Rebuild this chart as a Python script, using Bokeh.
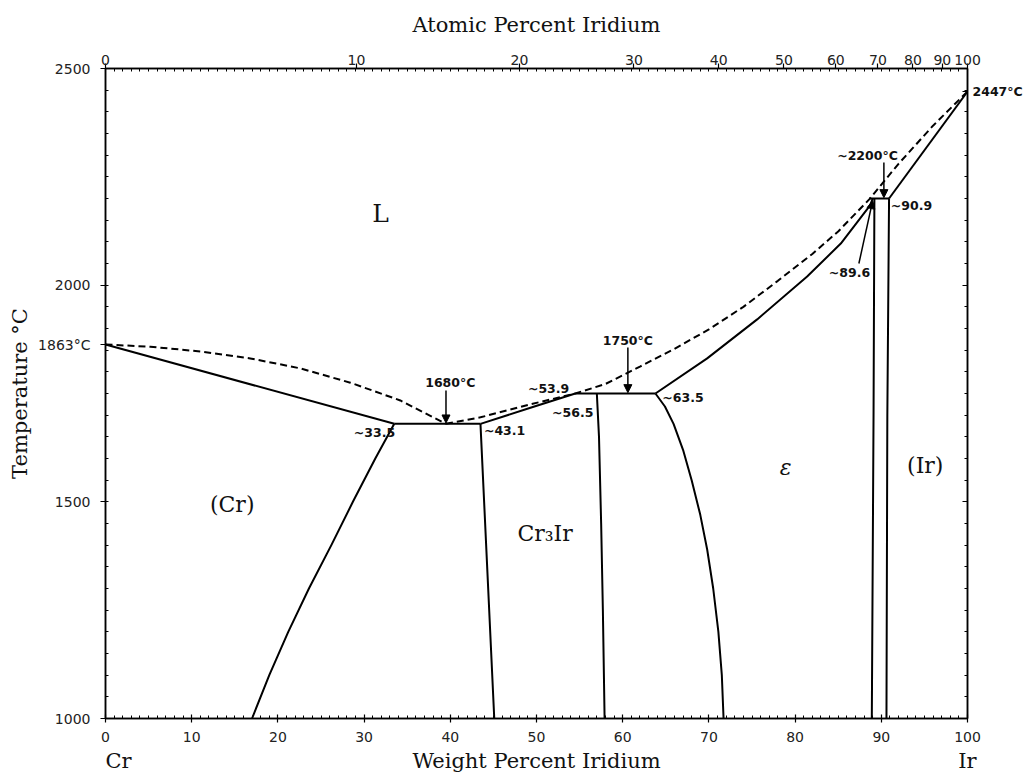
import numpy as np
from bokeh.plotting import figure
from bokeh.models import (LinearAxis, FixedTicker, Range1d, Label, Arrow, NormalHead)
from bokeh.embed import file_html
from bokeh.resources import INLINE

# ---------------- data (wt% Ir, temperature °C) ----------------
liq_left_wt = [0, 5.2, 11.0, 16.8, 22.6, 28.4, 34.2, 39.5]
liq_left_t = [1863, 1858, 1847, 1831, 1808, 1775, 1734, 1680]

liq_right_wt = [39.5, 43.5, 49.3, 54.5, 58, 62, 66, 70, 74, 78, 82, 85, 88.6, 92, 96, 100]
liq_right_t = [1680, 1695, 1725, 1750, 1772, 1812, 1853, 1898, 1950, 2010, 2072, 2124, 2198, 2280, 2368, 2447]

sol_cr_wt = [0, 33.5]
sol_cr_t = [1863, 1680]

solvus_cr_wt = [33.5, 31.3, 28.7, 26.2, 23.6, 21.2, 19.0, 17.0]
solvus_cr_t = [1680, 1600, 1500, 1400, 1300, 1200, 1100, 1000]

eutectic_wt = [33.5, 43.5]
eutectic_t = [1680, 1680]

cr3ir_left_wt = [43.5, 44.3, 45.1]
cr3ir_left_t = [1680, 1340, 1000]

cr3ir_sol_wt = [43.5, 49.3, 54.5]
cr3ir_sol_t = [1680, 1717, 1750]

perit1_wt = [54.5, 63.8]
perit1_t = [1750, 1750]

cr3ir_right_wt = [57.0, 57.25, 57.5, 57.7, 57.9]
cr3ir_right_t = [1750, 1650, 1450, 1250, 1000]

eps_left_wt = [63.8, 64.9, 65.9, 67.0, 68.0, 69.0, 69.8, 70.5, 71.1, 71.5, 71.7]
eps_left_t = [1750, 1720, 1680, 1620, 1550, 1470, 1390, 1300, 1200, 1100, 1000]

eps_sol_wt = [63.8, 69.8, 75.6, 81.4, 85.3, 88.7, 89.0]
eps_sol_t = [1750, 1831, 1921, 2020, 2096, 2184, 2200]

perit2_wt = [88.6, 90.9]
perit2_t = [2200, 2200]

eps_right_wt = [89.2, 89.1, 88.9]
eps_right_t = [2200, 1700, 1000]

ir_left_wt = [90.9, 90.7, 90.6]
ir_left_t = [2200, 1700, 1000]

ir_sol_wt = [90.9, 100]
ir_sol_t = [2200, 2447]

# tick labels
wt_ticks = [0, 10, 20, 30, 40, 50, 60, 70, 80, 90, 100]
temp_ticks = [1000, 1500, 2000, 2500]
at_labels = [0, 10, 20, 30, 40, 50, 60, 70, 80, 90, 100]
cr_melt = 1863
ir_melt = 2447

M_IR, M_CR = 192.22, 51.996

def at_to_wt(a):
    return a * M_IR / (a * M_IR + (100 - a) * M_CR) * 100

SERIF = "DejaVu Serif"

# ---------------- figure ----------------
p = figure(width=1034, height=779, x_range=Range1d(0, 100), y_range=Range1d(1000, 2500),
           output_backend="svg", toolbar_location=None,
           min_border_left=105, min_border_right=67, min_border_top=68, min_border_bottom=61)
p.grid.visible = False
p.outline_line_color = "black"
p.outline_line_width = 1.5
p.background_fill_color = "white"
p.border_fill_color = "white"

def style_axis(ax):
    ax.axis_line_color = "black"
    ax.axis_line_width = 1.5
    ax.major_tick_line_color = "black"
    ax.minor_tick_line_color = "black"
    ax.major_tick_line_width = 1.2
    ax.minor_tick_line_width = 1
    ax.major_label_text_font = "DejaVu Sans"
    ax.major_label_text_font_size = "14px"
    ax.major_label_text_color = "#222222"

# bottom axis: weight percent
xb = p.xaxis[0]
style_axis(xb)
xb.ticker = FixedTicker(ticks=wt_ticks, minor_ticks=list(range(0, 101)))
xb.major_tick_in = 4
xb.major_tick_out = 4
xb.minor_tick_in = 3
xb.minor_tick_out = 0
xb.major_label_standoff = 9

# second row below: element names and title
xb2 = LinearAxis()
xb2.ticker = FixedTicker(ticks=[1.5, 50, 100])
xb2.major_label_overrides = {1.5: "Cr", 50: "Weight Percent Iridium", 100: "Ir"}
xb2.axis_line_color = None
xb2.major_tick_line_color = None
xb2.minor_tick_line_color = None
xb2.major_tick_out = 0
xb2.major_tick_in = 0
xb2.major_label_standoff = 4
xb2.major_label_text_font = SERIF
xb2.major_label_text_font_size = "21px"
xb2.major_label_text_color = "#111111"
p.add_layout(xb2, "below")

# left axis
yl = p.yaxis[0]
style_axis(yl)
yl.ticker = FixedTicker(ticks=temp_ticks + [cr_melt], minor_ticks=list(range(1000, 2501, 50)))
yl.major_label_overrides = {cr_melt: "1863°C"}
yl.major_tick_in = 0
yl.major_tick_out = 5
yl.minor_tick_in = 3
yl.minor_tick_out = 0
yl.major_label_standoff = 10
yl.axis_label = "Temperature °C"
yl.axis_label_text_font = SERIF
yl.axis_label_text_font_size = "21px"
yl.axis_label_text_font_style = "normal"
yl.axis_label_text_color = "#111111"
yl.axis_label_standoff = 3

# top axis: atomic percent
at_pos = [round(at_to_wt(a), 4) for a in at_labels]
xt = LinearAxis()
style_axis(xt)
xt.ticker = FixedTicker(ticks=at_pos, minor_ticks=list(range(0, 101)))
xt.major_label_overrides = {pos: str(a) for pos, a in zip(at_pos, at_labels)}
xt.major_tick_in = 0
xt.major_tick_out = 5
xt.minor_tick_in = 3
xt.minor_tick_out = 0
xt.major_label_standoff = -1
xt.axis_label = "Atomic Percent Iridium"
xt.axis_label_text_font = SERIF
xt.axis_label_text_font_size = "21px"
xt.axis_label_text_font_style = "normal"
xt.axis_label_text_color = "#111111"
xt.axis_label_standoff = 15
p.add_layout(xt, "above")

# right axis (only the Ir melting point labelled)
yr = LinearAxis()
style_axis(yr)
yr.ticker = FixedTicker(ticks=temp_ticks + [ir_melt], minor_ticks=list(range(1000, 2501, 50)))
yr.major_label_overrides = {1000: "", 1500: "", 2000: "", 2500: "", ir_melt: "2447°C"}
yr.major_label_text_font_style = "bold"
yr.major_label_text_font_size = "12.5px"
yr.major_label_text_color = "#111111"
yr.major_tick_in = 5
yr.major_tick_out = 0
yr.minor_tick_in = 3
yr.minor_tick_out = 0
yr.major_label_standoff = 5
p.add_layout(yr, "right")

# ---------------- boundaries ----------------
LW = 2.0
dash = "7 4"
p.line(liq_left_wt, liq_left_t, line_color="black", line_width=LW, line_dash=dash)
p.line(liq_right_wt, liq_right_t, line_color="black", line_width=LW, line_dash=dash)
for xs, ts in [(sol_cr_wt, sol_cr_t), (solvus_cr_wt, solvus_cr_t), (eutectic_wt, eutectic_t),
               (cr3ir_left_wt, cr3ir_left_t), (cr3ir_sol_wt, cr3ir_sol_t), (perit1_wt, perit1_t),
               (cr3ir_right_wt, cr3ir_right_t), (eps_left_wt, eps_left_t), (eps_sol_wt, eps_sol_t),
               (perit2_wt, perit2_t), (eps_right_wt, eps_right_t), (ir_left_wt, ir_left_t),
               (ir_sol_wt, ir_sol_t)]:
    p.line(xs, ts, line_color="black", line_width=LW, line_join="round")

# ---------------- arrows ----------------
def arrow(x0, y0, x1, y1):
    p.add_layout(Arrow(end=NormalHead(size=8, fill_color="black", line_color="black", line_width=1),
                       x_start=x0, y_start=y0, x_end=x1, y_end=y1,
                       line_color="black", line_width=1.5))

arrow(39.5, 1757, 39.5, 1682)
arrow(60.6, 1856, 60.6, 1752)
arrow(90.3, 2283, 90.3, 2202)
arrow(87.4, 2050, 89.0, 2195)

# ---------------- annotations ----------------
def ann(x, y, text, align="center", size="12.5px", font="DejaVu Sans", style="bold",
        color="#111111"):
    p.add_layout(Label(x=x, y=y, text=text, text_align=align, text_baseline="middle",
                       text_font=font, text_font_size=size, text_font_style=style,
                       text_color=color))

ann(40.0, 1775, "1680°C")
ann(60.6, 1872, "1750°C")
ann(88.4, 2299, "~2200°C")
ann(51.4, 1762, "~53.9")
ann(54.2, 1706, "~56.5")
ann(43.9, 1665, "~43.1", align="left")
ann(33.6, 1660, "~33.5", align="right")
ann(64.6, 1741, "~63.5", align="left")
ann(88.7, 2030, "~89.6", align="right")
ann(91.1, 2184, "~90.9", align="left")

ann(31.9, 2165, "L", size="25px", font=SERIF, style="normal")
ann(14.7, 1494, "(Cr)", size="22px", font=SERIF, style="normal")
ann(51.0, 1427, "Cr₃Ir", size="22px", font=SERIF, style="normal")
ann(78.9, 1579, "ε", size="22px", font=SERIF, style="italic")
ann(95.1, 1584, "(Ir)", size="22px", font=SERIF, style="normal")

open("out.html", "w").write(file_html(p, INLINE))
